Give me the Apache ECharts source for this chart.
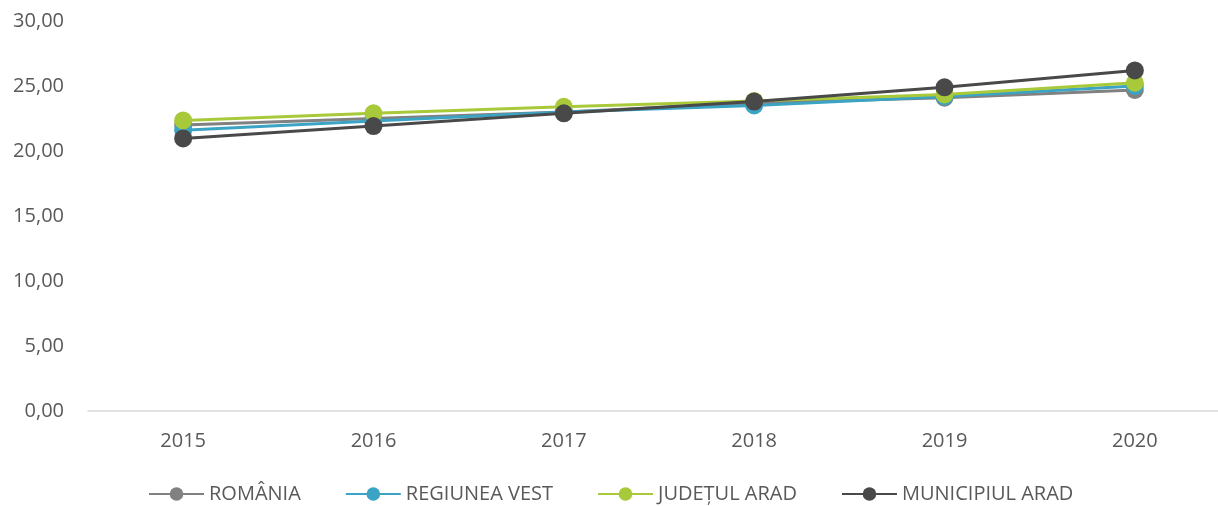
<!DOCTYPE html>
<html>
<head>
<meta charset="utf-8">
<script src="https://cdn.jsdelivr.net/npm/echarts@6/dist/echarts.min.js"></script>
<style>
  html, body { margin: 0; padding: 0; background: #fff; overflow: hidden; }
  #chart { width: 1230px; height: 506px; }
</style>
</head>
<body>
<div id="chart"></div>
<script>
// Years on the horizontal axis
const years = ['2015', '2016', '2017', '2018', '2019', '2020'];

// Series values per year
const romania = [22.0, 22.5, 23.0, 23.7, 24.1, 24.7];
const regiuneaVest = [21.6, 22.3, 23.0, 23.5, 24.2, 25.0];
const judetulArad = [22.35, 22.9, 23.4, 23.85, 24.35, 25.25];
const municipiulArad = [20.97, 21.92, 22.9, 23.8, 24.9, 26.2];

const seriesNames = ['ROMÂNIA', 'REGIUNEA VEST', 'JUDEȚUL ARAD', 'MUNICIPIUL ARAD'];
const seriesColors = ['#818181', '#3ba3c4', '#a8c93a', '#494949'];
const seriesData = [romania, regiuneaVest, judetulArad, municipiulArad];

const chart = echarts.init(document.getElementById('chart'), null, { renderer: 'canvas' });

const fontFamily = '"Open Sans", sans-serif';

chart.setOption({
  animation: false,
  backgroundColor: '#ffffff',
  grid: { left: 88, top: 21, width: 1142, height: 390, containLabel: false },
  legend: {
    data: seriesNames,
    left: 148,
    top: 484,
    padding: 0,
    itemGap: 44,
    itemWidth: 55,
    itemHeight: 17,
    textStyle: { fontFamily: fontFamily, fontSize: 20, color: '#595959' }
  },
  xAxis: {
    type: 'category',
    data: years,
    boundaryGap: true,
    axisLine: { show: true, lineStyle: { color: '#d9d9d9', width: 1.5 } },
    axisTick: { show: false },
    axisLabel: { margin: 20, fontFamily: fontFamily, fontSize: 20, color: '#595959' },
    splitLine: { show: false }
  },
  yAxis: {
    type: 'value',
    min: 0,
    max: 30,
    interval: 5,
    axisLine: { show: false },
    axisTick: { show: false },
    splitLine: { show: false },
    axisLabel: {
      margin: 24,
      fontFamily: fontFamily,
      fontSize: 20,
      color: '#595959',
      formatter: v => v.toFixed(2).replace('.', ',')
    }
  },
  series: seriesData.map((d, i) => ({
    name: seriesNames[i],
    type: 'line',
    data: d,
    symbol: 'circle',
    symbolSize: 18,
    showSymbol: true,
    color: seriesColors[i],
    lineStyle: { width: 3, color: seriesColors[i] },
    itemStyle: { color: seriesColors[i] },
    z: 2 + i
  }))
});
</script>
</body>
</html>
